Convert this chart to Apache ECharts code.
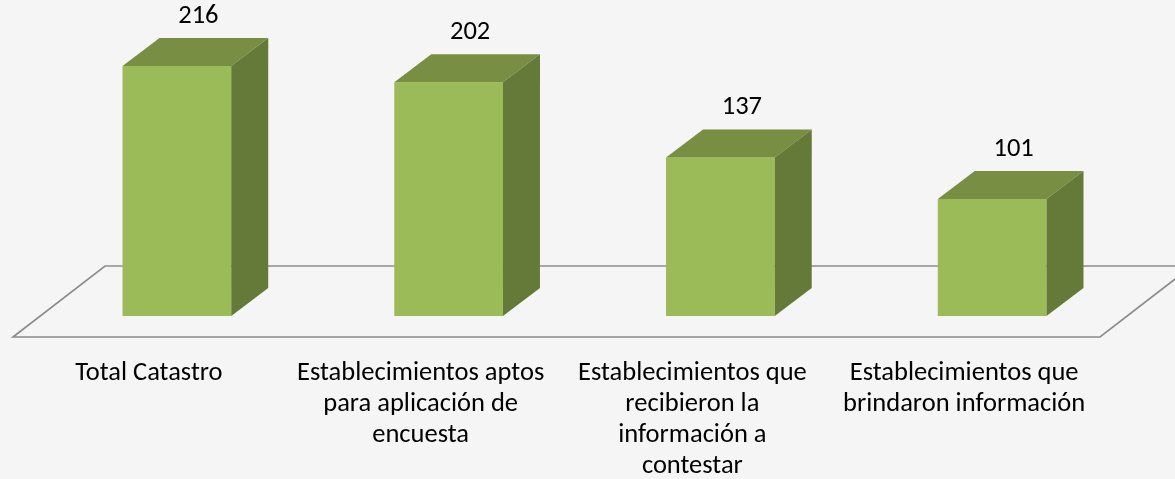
<html>

<head>
    <meta charset="utf-8">
    <script src="https://cdn.jsdelivr.net/npm/echarts@6/dist/echarts.min.js"></script>
    <style>
        html,
        body {
            margin: 0;
            padding: 0;
            background: #f5f5f5;
        }
        #main {
            width: 1175px;
            height: 479px;
        }
    </style>
</head>

<body>
    <div id="main"></div>
    <script>
        // datos
        var categories = [
            'Total Catastro',
            'Establecimientos aptos\npara aplicación de\nencuesta',
            'Establecimientos que\nrecibieron la\ninformación a\ncontestar',
            'Establecimientos que\nbrindaron información'
        ];
        var values = [216, 202, 137, 101];

        var FONT = "Carlito, Calibri, Lato, sans-serif";
        var FRONT = '#9bbb59', TOP = '#778e43', SIDE = '#657a38';
        var DX = 37, DY = -28;      // profundidad de la barra
        var SHIFT = 28;             // barra desplazada hacia el fondo del piso

        function renderFloor(params, api) {
            var cs = params.coordSys;
            var fy = api.coord([0, 0])[1] + 21;
            var l = cs.x, r = cs.x + cs.width;
            return {
                type: 'polygon',
                silent: true,
                shape: { points: [[l, fy], [l + 92, fy - 71], [r + 92, fy - 71], [r, fy]] },
                style: { fill: 'none', stroke: '#8c8c8c', lineWidth: 1.6 }
            };
        }

        function renderBar(params, api) {
            var i = api.value(0), v = api.value(1);
            var top = api.coord([i, v]);
            var base = api.coord([i, 0]);
            var w = api.size([1, 0])[0] * 0.4;
            var x0 = top[0] + SHIFT - w / 2, x1 = x0 + w;
            var y0 = top[1], y1 = base[1];
            return {
                type: 'group',
                children: [
                    { type: 'rect', shape: { x: x0, y: y0, width: w, height: y1 - y0 }, style: { fill: FRONT } },
                    { type: 'polygon', shape: { points: [[x0, y0], [x0 + DX, y0 + DY], [x1 + DX, y0 + DY], [x1, y0]] }, style: { fill: TOP } },
                    { type: 'polygon', shape: { points: [[x1, y0], [x1 + DX, y0 + DY], [x1 + DX, y1 + DY], [x1, y1]] }, style: { fill: SIDE } },
                    {
                        type: 'text',
                        style: {
                            text: String(v), x: (x0 + x1 + DX) / 2 + 3, y: y0 + DY - 22,
                            align: 'center', verticalAlign: 'middle',
                            fontFamily: FONT, fontSize: 26.5, fill: '#000'
                        }
                    }
                ]
            };
        }

        var myChart = echarts.init(document.getElementById('main'));
        var option = {
            backgroundColor: '#f5f5f5',
            animation: false,
            grid: {
                left: 13,
                right: 75,
                top: 26.6,
                height: 289.4,
                containLabel: false,
                outerBoundsMode: 'none'
            },
            xAxis: {
                type: 'category',
                data: categories,
                axisLine: { show: false },
                axisTick: { show: false },
                axisLabel: {
                    interval: 0,
                    margin: 42,
                    fontFamily: FONT,
                    fontSize: 26.5,
                    lineHeight: 31,
                    color: '#000',
                    align: 'center'
                }
            },
            yAxis: {
                type: 'value',
                min: 0,
                max: 250,
                show: false
            },
            series: [
                {
                    type: 'custom',
                    z: 1,
                    data: [[0, 0]],
                    renderItem: renderFloor
                },
                {
                    type: 'custom',
                    z: 2,
                    data: values.map(function (v, i) { return [i, v]; }),
                    encode: { x: 0, y: 1 },
                    renderItem: renderBar
                }
            ]
        };
        myChart.setOption(option);
    </script>
</body>

</html>
